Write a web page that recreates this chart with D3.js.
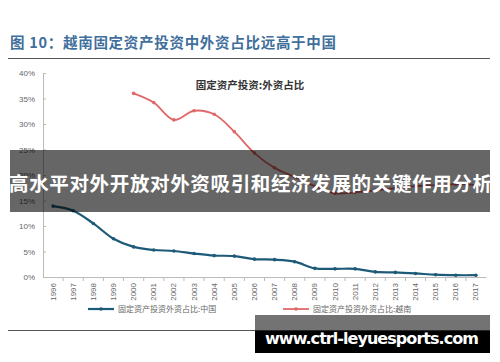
<!DOCTYPE html>
<html>
<head>
<meta charset="utf-8">
<script src="https://cdn.jsdelivr.net/npm/d3@7"></script>
<style>
    body { margin: 0; background: #fff; }
    svg { display: block; }
</style>
</head>
<body>
<svg id="chart"></svg>
<script>
// years on the x axis
var years = ["1996", "1997", "1998", "1999", "2000", "2001", "2002", "2003", "2004", "2005", "2006",
             "2007", "2008", "2009", "2010", "2011", "2012", "2013", "2014", "2015", "2016", "2017"];

// share of foreign capital in fixed asset investment, %
var chinaValues = [13.9, 13.0, 10.5, 7.5, 5.9, 5.3, 5.1, 4.6, 4.2, 4.1, 3.5,
                   3.4, 3.0, 1.7, 1.6, 1.6, 1.0, 0.9, 0.7, 0.45, 0.35, 0.35];
var vietnamValues = [null, null, null, null, 36.0, 34.2, 30.8, 32.6, 31.9, 28.5, 24.3,
                     21.4, 19.6, 17.8, 16.4, 16.6, 17.0, 17.4, 17.8, 18.0, 18.2, 18.0];

var yTicks = [0, 5, 10, 15, 20, 25, 30, 35, 40];

var seriesNames = ["固定资产投资外资占比:中国", "固定资产投资外资占比:越南"];

var width = 500;
var height = 362;

var svg = d3.select("#chart")
    .attr("width", width)
    .attr("height", height);

/*
 * Figure caption.
 */
svg.append("text")
    .attr("x", 10)
    .attr("y", 48)
    .attr("font-family", "Noto Sans CJK SC")
    .attr("font-size", "14.5px")
    .attr("font-weight", "bold")
    .attr("fill", "#3f6f9c")
    .attr("textLength", 326)
    .text("图 10：越南固定资产投资中外资占比远高于中国");

svg.append("line")
    .attr("x1", 8).attr("x2", 490)
    .attr("y1", 58.5).attr("y2", 58.5)
    .attr("stroke", "#555")
    .attr("stroke-width", 1);

/*
 * Scales.
 */
var x = d3.scaleBand()
    .domain(years)
    .range([43, 486]);

var y = d3.scaleLinear()
    .domain([0, 40])
    .range([277, 73]);

var cx = function(d) { return x(d) + x.bandwidth() / 2; };

// y axis
var yAxis = svg.append("g")
    .attr("transform", "translate(43,0)")
    .call(d3.axisLeft(y).tickValues(yTicks).tickSize(-3).tickPadding(8)
          .tickFormat(function(d) { return d + "%"; }));
yAxis.select(".domain").attr("stroke", "#bbb");
yAxis.selectAll(".tick line").attr("stroke", "#bbb");
yAxis.selectAll("text")
    .attr("font-family", "Liberation Sans")
    .attr("font-size", "8px")
    .attr("fill", "#666");

// x axis, ticks between categories
var xAxis = svg.append("g")
    .attr("transform", "translate(0,277)")
    .call(d3.axisBottom(x).tickSize(0).tickPadding(6));
xAxis.select(".domain").attr("stroke", "#bbb");
xAxis.selectAll("text")
    .attr("font-family", "Liberation Sans")
    .attr("font-size", "8px")
    .attr("fill", "#666")
    .attr("text-anchor", "end")
    .attr("dy", "0.32em")
    .attr("transform", "translate(0,0) rotate(-90)")
    .attr("x", -6)
    .attr("y", 0);

svg.selectAll()
    .data(years.slice(1))
    .enter()
    .append("line")
    .attr("x1", function(d) { return x(d); })
    .attr("x2", function(d) { return x(d); })
    .attr("y1", 277)
    .attr("y2", 281)
    .attr("stroke", "#bbb");

/*
 * Inner chart title.
 */
svg.append("text")
    .attr("x", 250)
    .attr("y", 89)
    .attr("text-anchor", "middle")
    .attr("font-family", "Noto Sans CJK SC")
    .attr("font-size", "10.5px")
    .attr("font-weight", "bold")
    .attr("fill", "#333")
    .text("固定资产投资:外资占比");

/*
 * Lines.
 */
var series = [
    {"values": chinaValues, "color": "#1c5a78", "width": 2.2},
    {"values": vietnamValues, "color": "#e06868", "width": 1.8}
];

var line = d3.line()
    .defined(function(d) { return d.v != null; })
    .x(function(d) { return cx(d.year); })
    .y(function(d) { return y(d.v); })
    .curve(d3.curveCatmullRom.alpha(0.5));

series.forEach(function(s) {
    var points = years.map(function(yr, i) {
        return {"year": yr, "v": s.values[i]};
    });

    svg.append("path")
        .datum(points)
        .attr("d", line)
        .attr("fill", "none")
        .attr("stroke", s.color)
        .attr("stroke-width", s.width);

    svg.selectAll()
        .data(points.filter(function(d) { return d.v != null; }))
        .enter()
        .append("circle")
        .attr("cx", function(d) { return cx(d.year); })
        .attr("cy", function(d) { return y(d.v); })
        .attr("r", 1.8)
        .attr("fill", s.color);
});

/*
 * Legend.
 */
var legendX = [88, 283];
series.forEach(function(s, i) {
    var g = svg.append("g")
        .attr("transform", "translate(" + legendX[i] + ",309)");
    g.append("line")
        .attr("x1", 0).attr("x2", 26)
        .attr("y1", 0).attr("y2", 0)
        .attr("stroke", s.color)
        .attr("stroke-width", s.width);
    g.append("circle")
        .attr("cx", 13).attr("cy", 0)
        .attr("r", 1.8)
        .attr("fill", s.color);
    g.append("text")
        .attr("x", 30)
        .attr("y", 0)
        .attr("dy", "0.35em")
        .attr("font-family", "Noto Sans CJK SC")
        .attr("font-size", "8px")
        .attr("fill", "#666")
        .text(seriesNames[i]);
});

// bottom rule
svg.append("line")
    .attr("x1", 8).attr("x2", 490)
    .attr("y1", 330.5).attr("y2", 330.5)
    .attr("stroke", "#555")
    .attr("stroke-width", 1);

/*
 * Overlay banner.
 */
svg.append("rect")
    .attr("x", 10).attr("y", 150)
    .attr("width", 480).attr("height", 62)
    .attr("fill", "#000")
    .attr("fill-opacity", 0.6);

svg.append("text")
    .attr("x", 9)
    .attr("y", 191)
    .attr("font-family", "Noto Sans CJK SC")
    .attr("font-size", "19.5px")
    .attr("font-weight", "bold")
    .attr("fill", "#fff")
    .attr("textLength", 483)
    .text("高水平对外开放对外资吸引和经济发展的关键作用分析");

/*
 * Watermark.
 */
svg.append("rect")
    .attr("x", 255).attr("y", 315)
    .attr("width", 235).attr("height", 16)
    .attr("fill", "#000")
    .attr("fill-opacity", 0.55);

svg.append("rect")
    .attr("x", 255).attr("y", 331)
    .attr("width", 235).attr("height", 22)
    .attr("fill", "#000");

svg.append("text")
    .attr("x", 265)
    .attr("y", 344)
    .attr("font-family", "DejaVu Sans")
    .attr("font-size", "16px")
    .attr("font-weight", "bold")
    .attr("fill", "#fff")
    .attr("textLength", 214)
    .text("www.ctrl-leyuesports.com");
</script>
</body>
</html>
